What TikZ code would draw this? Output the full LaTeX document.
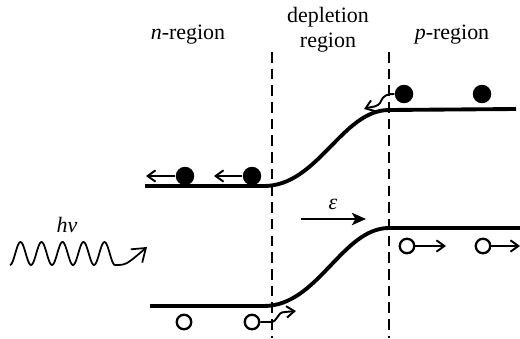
\documentclass[tikz,border=0pt]{standalone}
\usepackage{fontspec}
\setmainfont{Liberation Serif}
\usetikzlibrary{arrows.meta}

\begin{document}
\begin{tikzpicture}[x=0.02cm,y=-0.02cm,>={Straight Barb[length=4.5pt,width=6.5pt]},
    font=\fontsize{12.5}{14}\selectfont,
    band/.style={line width=2.2pt},
    junction/.style={line width=0.9pt,dash pattern=on 6pt off 3.5pt},
    electron/.style={circle,fill,inner sep=0pt,minimum size=0.37cm},
    hole/.style={circle,draw,line width=1.3pt,inner sep=0pt,minimum size=0.29cm},
    move/.style={->,line width=1.1pt}]

    \useasboundingbox (0,0) rectangle (520,338);

    % Region labels
    \node (nlab) at (188,35) {\textit{n}-region};
    \node[align=center] (dlab) at (328,30) {depletion\\region};
    \node (plab) at (452,35) {\textit{p}-region};

    % Junction edges
    \draw[junction] (272,52) -- (272,338);
    \draw[junction] (389,52) -- (389,338);

    % Conduction and valence bands
    \draw[band] (145,186) -- (264,186) .. controls (318,186) and (342,110) .. (389,110) -- (516,109);
    \draw[band] (150,306) -- (264,306) .. controls (318,306) and (342,228) .. (389,228) -- (520,228);

    % Electrons
    \node[electron] (e1) at (185,176) {};
    \node[electron] (e2) at (252,176) {};
    \node[electron] (e3) at (404,94) {};
    \node[electron] (e4) at (482,94) {};
    \coordinate (e1end) at (146,176);
    \coordinate (e2end) at (214,176);
    \coordinate (e3end) at (364,109);
    \draw[move] (e1) -- (e1end);
    \draw[move] (e2) -- (e2end);
    \draw[move] (e3.west) to[out=175,in=70] (381,101) to[out=-110,in=20] (e3end);

    % Holes
    \node[hole] (h1) at (184,322) {};
    \node[hole] (h2) at (252,322) {};
    \node[hole] (h3) at (407,246) {};
    \node[hole] (h4) at (483,246) {};
    \coordinate (h2end) at (296,311);
    \coordinate (h3end) at (446,246);
    \coordinate (h4end) at (520,246);
    \draw[move] (h2.east) -- (270,322) .. controls (279,322) and (276,312) .. (285,312) -- (h2end);
    \draw[move] (h3) -- (h3end);
    \draw[move] (h4) -- (h4end);

    % Built-in field
    \node (eps) at (333,204) {\textit{ε}};
    \coordinate (fstart) at (301,219);
    \coordinate (fend) at (366,219);
    \draw[->,line width=1.4pt,>={Stealth[length=8pt,width=7pt,inset=2pt]}] (fstart) -- (fend);

    % Incoming photon
    \node (hnu) at (67,225) {\textit{hν}};
    \coordinate (photon) at (147,247);
    \draw[line width=1pt,->,>={Straight Barb[length=7pt,width=10pt]}]
        plot[domain=0:5,samples=120,smooth] ({10+21*\x},{253.5+11.5*cos(360*\x)})
        .. controls (126,265) .. (photon);

\end{tikzpicture}
\end{document}
